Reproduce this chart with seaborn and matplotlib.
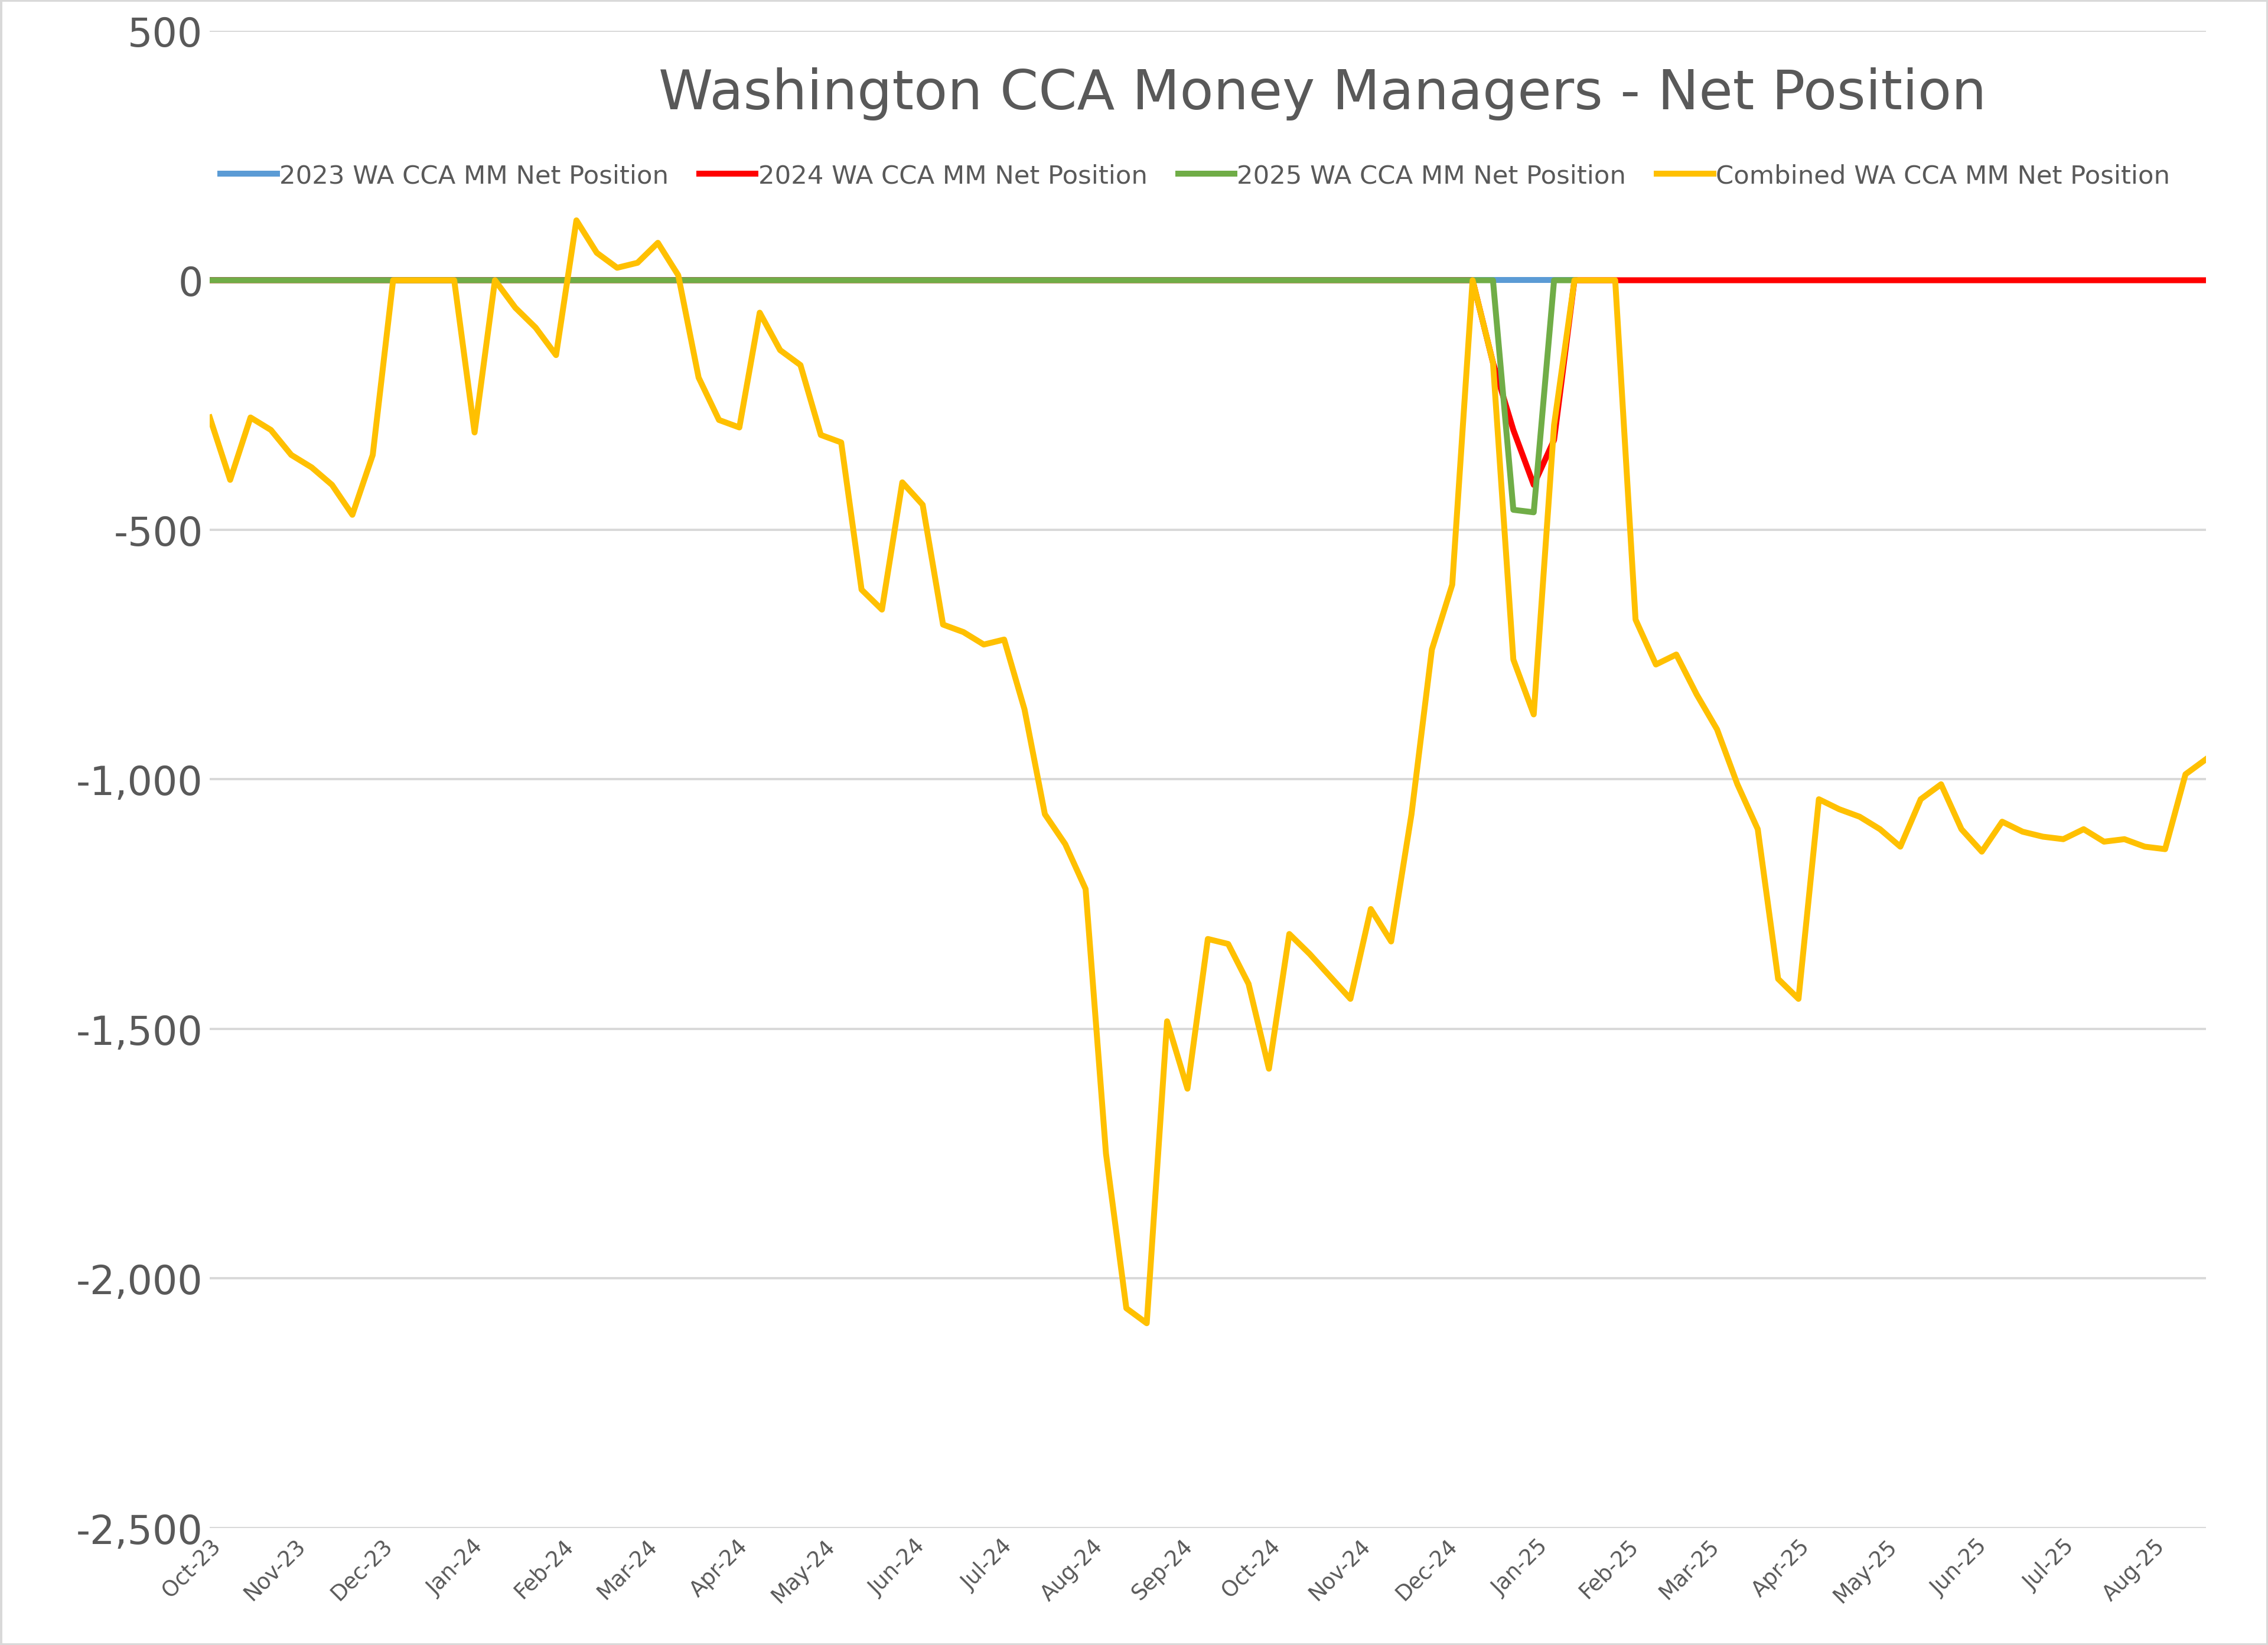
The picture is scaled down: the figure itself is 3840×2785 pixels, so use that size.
import numpy as np
import pandas as pd
import matplotlib
matplotlib.use("Agg")
import matplotlib.pyplot as plt
import matplotlib.dates as mdates
from matplotlib.ticker import FuncFormatter
import seaborn as sns

dates = pd.date_range("2023-10-03", periods=99, freq="7D")

combined = [-275, -400, -275, -300, -350, -375, -410, -470, -350, 0,
            0, 0, 0, -305, 0, -55, -95, -150, 120, 55,
            25, 35, 75, 10, -195, -280, -295, -65, -140, -170,
            -310, -325, -620, -660, -405, -450, -690, -705, -730, -720,
            -860, -1070, -1130, -1220, -1750, -2060, -2090, -1485, -1620, -1320,
            -1330, -1410, -1580, -1310, -1350, -1395, -1440, -1260, -1325, -1070,
            -740, -610, 0, -165, -760, -870, -290, 0, 0, 0,
            -680, -770, -750, -830, -900, -1010, -1100, -1400, -1440, -1040,
            -1060, -1075, -1100, -1135, -1040, -1010, -1100, -1145, -1085, -1105,
            -1115, -1120, -1100, -1125, -1120, -1135, -1140, -990, -960]
s2023 = [0] * 68 + [np.nan] * 31
s2024 = [0] * 63 + [-165, -300, -410, -320] + [0] * 32
s2025 = [0] * 64 + [-460, -465, 0, 0] + [np.nan] * 31

names = ["2023 WA CCA MM Net Position", "2024 WA CCA MM Net Position",
         "2025 WA CCA MM Net Position", "Combined WA CCA MM Net Position"]
colors = ["#5B9BD5", "#FF0000", "#70AD47", "#FFC000"]

fig = plt.figure(figsize=(16, 11.608), dpi=240)
fig.patch.set_edgecolor("#D9D9D9")
fig.patch.set_linewidth(2)
ax = fig.add_axes([0.0925, 0.0712, 0.8801, 0.9098])

for name, vals, c in zip(names, [s2023, s2024, s2025, combined], colors):
    df = pd.DataFrame({"date": dates, "v": vals})
    sns.lineplot(data=df, x="date", y="v", ax=ax, color=c, linewidth=3, label=name)

ax.set_ylim(-2500, 500)
ax.set_yticks(range(-2500, 501, 500))
ax.yaxis.set_major_formatter(FuncFormatter(lambda v, p: f"{int(v):,}"))
ax.set_xlim(dates[0], dates[-1])
ax.set_xticks([pd.Timestamp("2023-10-03")] + list(pd.date_range("2023-11-01", "2025-08-01", freq="MS")))
ax.set_xticklabels([d.strftime("%b-%y") for d in pd.date_range("2023-10-01", "2025-08-01", freq="MS")])
for lab in ax.get_xticklabels():
    lab.set_rotation(45); lab.set_ha("right"); lab.set_rotation_mode("anchor")
ax.tick_params(axis="x", labelsize=11, colors="#595959", length=0)
ax.tick_params(axis="y", labelsize=20, colors="#595959", length=0)
ax.set_xlabel(""); ax.set_ylabel("")
ax.grid(axis="y", color="#D9D9D9", linewidth=1.2)
ax.set_axisbelow(True)
for s in ax.spines.values():
    s.set_visible(False)

fig.text(0.583, 0.943, "Washington CCA Money Managers - Net Position", ha="center",
         va="center", fontsize=28, color="#595959")
ax.legend(loc="center", bbox_to_anchor=(0.527, 0.893), bbox_transform=fig.transFigure,
          ncol=4, frameon=False, fontsize=13, labelcolor="#595959",
          handlelength=2.2, handletextpad=0.1, columnspacing=1.2)

fig.savefig("out.png", dpi=240)
